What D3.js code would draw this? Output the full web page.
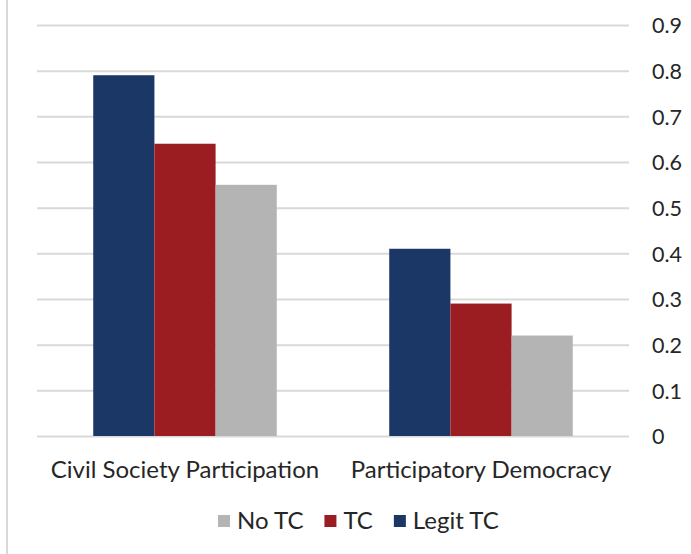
<!DOCTYPE html>
<html><head><meta charset="utf-8">
<script src="https://cdn.jsdelivr.net/npm/d3@7"></script>
<style>body{margin:0;background:#fff}svg{display:block}text{font-family:Lato,"Open Sans",sans-serif;fill:#262626}</style>
</head><body><svg id="c" width="691" height="554"></svg>
<script>
const categories = ["Civil Society Participation", "Participatory Democracy"];
const seriesNames = ["Legit TC", "TC", "No TC"];
const legitTC = [0.79, 0.41];
const tc = [0.64, 0.29];
const noTC = [0.55, 0.22];
const yTicks = [0, 0.1, 0.2, 0.3, 0.4, 0.5, 0.6, 0.7, 0.8, 0.9];
const legendOrder = ["No TC", "TC", "Legit TC"];
const colors = {"Legit TC": "#1b3765", "TC": "#9b1c21", "No TC": "#b4b4b4"};

const seriesVals = {"Legit TC": legitTC, "TC": tc, "No TC": noTC};
const svg = d3.select("#c");
const mLeft = 37, mRight = 629, mTop = 25, mBottom = 436;

svg.append("line").attr("x1", 7).attr("x2", 7).attr("y1", 0).attr("y2", 554)
  .attr("stroke", "#d9d9d9").attr("stroke-width", 2);

const y = d3.scaleLinear().domain([0, 0.9]).range([mBottom, mTop]);
const x0 = d3.scaleBand().domain(categories).range([mLeft, mRight]).paddingInner(0).paddingOuter(0);
const bw = x0.bandwidth();
const groupW = bw * 0.62;
const x1 = d3.scaleBand().domain(seriesNames).range([0, groupW]).padding(0);

const yAxis = d3.axisRight(y).tickValues(yTicks).tickSize(-(mRight - mLeft)).tickFormat(d => d === 0 ? "0" : d3.format(".1f")(d));
const ga = svg.append("g").attr("transform", `translate(${mRight},0)`).call(yAxis);
ga.select(".domain").remove();
ga.selectAll(".tick line").attr("stroke", "#d9d9d9").attr("stroke-width", 2);
ga.selectAll(".tick text").attr("x", 23).attr("dy", "0.36em").attr("font-size", 21.5).style("font-family", "Lato").attr("fill", "#262626");

const g = svg.append("g");
categories.forEach((c, i) => {
  const gx = x0(c) + (bw - groupW) / 2;
  seriesNames.forEach(s => {
    const v = seriesVals[s][i];
    g.append("rect").attr("x", gx + x1(s)).attr("width", x1.bandwidth())
      .attr("y", y(v)).attr("height", y(0) - y(v)).attr("fill", colors[s]);
  });
  svg.append("text").attr("x", x0(c) + bw / 2).attr("y", 478).attr("text-anchor", "middle")
    .attr("font-size", 24).text(c);
});

// legend
const lg = svg.append("g");
let lx = 218;
const legendGap = 21;
legendOrder.forEach(s => {
  lg.append("rect").attr("x", lx).attr("y", 515).attr("width", 12).attr("height", 12).attr("fill", colors[s]);
  const t = lg.append("text").attr("x", lx + 19).attr("y", 529).attr("font-size", 24).text(s);
  lx = lx + 19 + t.node().getComputedTextLength() + legendGap;
});
</script></body></html>
